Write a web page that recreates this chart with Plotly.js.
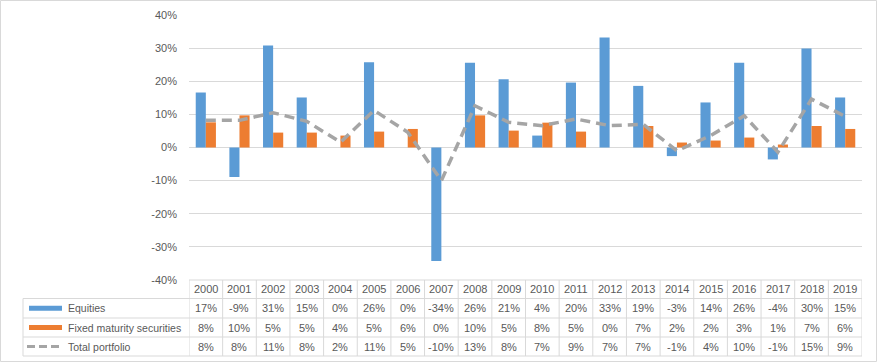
<!DOCTYPE html>
<html><head><meta charset="utf-8">
<script src="https://cdn.plot.ly/plotly-3.0.1.min.js"></script>
<style>html,body{margin:0;padding:0;background:#fff}#chart{width:877px;height:363px}</style>
</head><body><div id="chart"></div>
<script>
const years = ['2000','2001','2002','2003','2004','2005','2006','2007','2008','2009','2010','2011','2012','2013','2014','2015','2016','2017','2018','2019'];
const equities = [16.6,-8.9,30.8,15.1,0,25.7,0,-34.3,25.6,20.6,3.6,19.6,33.2,18.6,-2.6,13.6,25.6,-3.6,29.9,15.1];
const fixedMaturity = [7.6,9.7,4.5,4.5,3.6,4.8,5.6,0,9.7,5.1,7.5,4.8,0,6.5,1.5,2.1,3.0,0.9,6.5,5.6];
const totalPortfolio = [8.2,8.2,10.5,7.9,1.6,11.2,4.6,-10,12.6,7.6,6.6,8.6,6.6,7.0,-1.0,3.6,9.6,-1.4,14.6,9.4];
const seriesNames = ['Equities','Fixed maturity securities','Total portfolio'];
const yTicks = [-40,-30,-20,-10,0,10,20,30,40];

const W=877,H=363, L=189, R=862, T=15, B=280;
const px = x => (x-L)/(R-L);
const py = y => (B-y)/(B-T);
const txtColor='#595959', gridColor='#D9D9D9', font="'Liberation Sans', Arial, sans-serif";
const blue='#5B9BD5', orange='#ED7D31', gray='#A5A5A5';
const fmt = v => { const r=Math.round(v); return (r<0?'-':'')+Math.abs(r)+'%'; };

const traces = [
 {type:'bar', x:years, y:equities, name:seriesNames[0], marker:{color:blue}, hoverinfo:'skip'},
 {type:'bar', x:years, y:fixedMaturity, name:seriesNames[1], marker:{color:orange}, hoverinfo:'skip'},
 {type:'scatter', mode:'lines', x:years, y:totalPortfolio, name:seriesNames[2], line:{color:gray, width:3.5, dash:'10px,6px'}, hoverinfo:'skip'}
];

const shapes=[], ann=[];
shapes.push({type:'rect', xref:'paper', yref:'paper', x0:px(0.5), x1:px(876.5), y0:py(0.5), y1:py(361.5), line:{color:gridColor,width:1}});
const rowY=[280,298.5,318,337,356];
shapes.push({type:'line', xref:'paper', yref:'paper', x0:px(L), x1:px(R), y0:py(rowY[0]), y1:py(rowY[0]), line:{color:gridColor,width:1}});
for(let i=1;i<rowY.length;i++) shapes.push({type:'line', xref:'paper', yref:'paper', x0:px(23), x1:px(R), y0:py(rowY[i]), y1:py(rowY[i]), line:{color:gridColor,width:1}});
shapes.push({type:'line', xref:'paper', yref:'paper', x0:px(23), x1:px(23), y0:py(rowY[1]), y1:py(rowY[4]), line:{color:gridColor,width:1}});
for(let i=0;i<=years.length;i++) shapes.push({type:'line', xref:'x', yref:'paper', x0:i-0.5, x1:i-0.5, y0:py(rowY[0]), y1:py(rowY[4]), line:{color:gridColor,width:1}});
const rowC=[(rowY[0]+rowY[1])/2,(rowY[1]+rowY[2])/2,(rowY[2]+rowY[3])/2,(rowY[3]+rowY[4])/2];
shapes.push({type:'rect', xref:'paper', yref:'paper', x0:px(29), x1:px(62), y0:py(rowC[1]-2.5), y1:py(rowC[1]+2.5), fillcolor:blue, line:{width:0}});
shapes.push({type:'rect', xref:'paper', yref:'paper', x0:px(29), x1:px(62), y0:py(rowC[2]-2.5), y1:py(rowC[2]+2.5), fillcolor:orange, line:{width:0}});
shapes.push({type:'line', xref:'paper', yref:'paper', x0:px(27), x1:px(63), y0:py(rowC[3]), y1:py(rowC[3]), line:{color:gray,width:3,dash:'8px,4px'}});
const labF={family:font,size:11,color:txtColor};
const nameF={family:font,size:10.5,color:txtColor};
seriesNames.forEach((n,i)=>ann.push({xref:'paper',yref:'paper',x:px(66),y:py(rowC[i+1]),text:n,showarrow:false,xanchor:'left',yanchor:'middle',font:nameF}));
const rows=[equities,fixedMaturity,totalPortfolio];
years.forEach((yr,j)=>{
  ann.push({xref:'x',yref:'paper',x:j,y:py(rowC[0]),text:yr,showarrow:false,xanchor:'center',yanchor:'middle',font:labF});
  rows.forEach((r,i)=>ann.push({xref:'x',yref:'paper',x:j,y:py(rowC[i+1]),text:fmt(r[j]),showarrow:false,xanchor:'center',yanchor:'middle',font:labF}));
});

const layout={
 width:W,height:H, margin:{l:L,r:W-R,t:T,b:H-B,pad:0},
 paper_bgcolor:'#fff', plot_bgcolor:'#fff', showlegend:false,
 barmode:'group', bargap:0.4, bargroupgap:0,
 font:{family:font,size:11,color:txtColor},
 xaxis:{type:'category', range:[-0.5,19.5], showticklabels:false, showgrid:false, zeroline:false, showline:false, ticks:''},
 yaxis:{range:[-40,40], tickvals:yTicks, ticktext:yTicks.map(v=>v+'%'), showgrid:true, gridcolor:gridColor, gridwidth:1, zeroline:false, showline:false, ticks:'', ticklabelstandoff:11, tickfont:labF, fixedrange:true},
 shapes:shapes, annotations:ann
};
Plotly.newPlot('chart',traces,layout,{staticPlot:true,displayModeBar:false});
</script></body></html>
